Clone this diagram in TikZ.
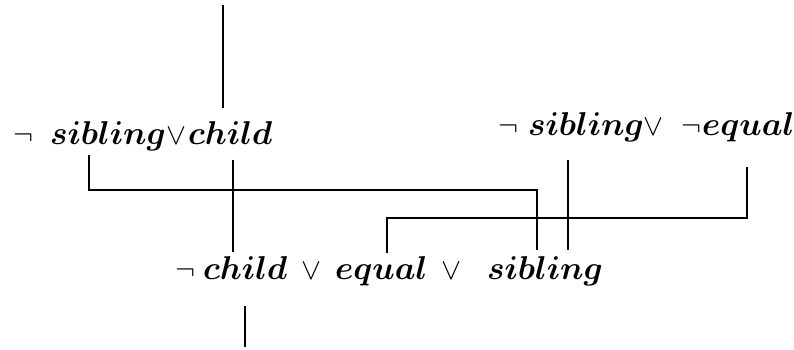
\RequirePackage{fix-cm}
\documentclass[tikz,border=0pt]{standalone}
\usetikzlibrary{calc}
\begin{document}
\begin{tikzpicture}[x=1pt,y=-1pt]
\tikzset{
  word/.style={inner sep=0pt, outer sep=0pt, anchor=base west, font=\fontsize{33}{40}\selectfont\boldmath},
  sym/.style={inner sep=0pt, outer sep=0pt, anchor=base west, font=\fontsize{30}{36}\selectfont},
  link/.style={line width=2.2pt},
}
\useasboundingbox (0,0) rectangle (794,349);
% left clause
\node[sym] (lneg) at (13,144) {$\neg$};
\node[word] (lsib) at (50,144) {$sibling$};
\node[sym] (lor) at (166,144) {$\vee$};
\node[word] (lchi) at (188,144) {$child$};
% right clause
\node[sym] (rneg1) at (498,135) {$\neg$};
\node[word] (rsib) at (528,135) {$sibling$};
\node[sym] (ror) at (643,135) {$\vee$};
\node[sym] (rneg2) at (681,135) {$\neg$};
\node[word] (requ) at (702,135) {$equal$};
% bottom clause
\node[sym] (bneg) at (175,279) {$\neg$};
\node[word] (bchi) at (203,279) {$child$};
\node[sym] (bor1) at (301,279) {$\vee$};
\node[word] (bequ) at (335,279) {$equal$};
\node[sym] (bor2) at (441,279) {$\vee$};
\node[word] (bsib) at (487,279) {$sibling$};
% free ends
\coordinate (top) at (223,5);
\coordinate (bot) at (245,347);
% links
\draw[link] (top) -- ($(lchi.base west)+(35,-36)$);
\draw[link] ($(lsib.base west)+(39,11)$) -- ++(0,35) -| ($(bsib.base west)+(50,-29)$);
\draw[link] ($(lchi.base west)+(45,16)$) -- ($(bchi.base west)+(30,-27)$);
\draw[link] ($(rsib.base west)+(40,25)$) -- ($(bsib.base west)+(81,-29)$);
\draw[link] ($(requ.base west)+(45,32)$) -- ++(0,51) -| ($(bequ.base west)+(52,-26)$);
\draw[link] ($(bchi.base west)+(42,27)$) -- (bot);
\end{tikzpicture}
\end{document}
